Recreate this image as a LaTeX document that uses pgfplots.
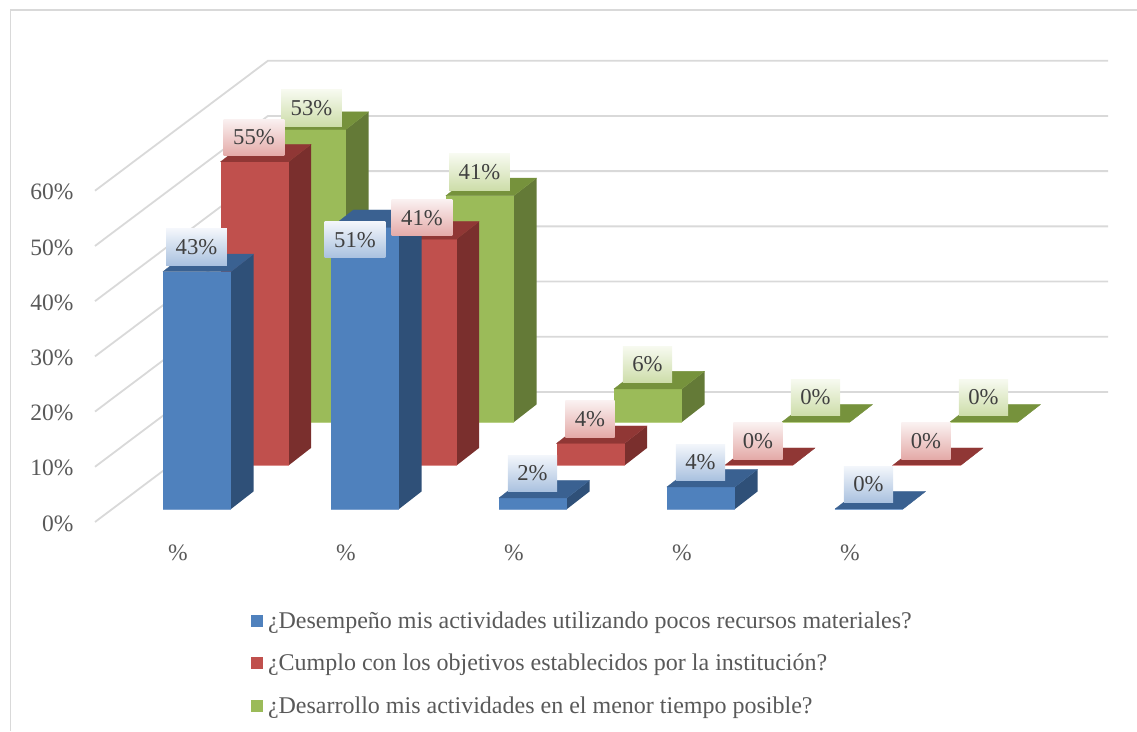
\documentclass[border=0pt]{standalone}
\usepackage{pgfplots}
\usepackage{pgfplotstable}
\usepackage{fontspec}
\setmainfont{Liberation Serif}
\pgfplotsset{compat=1.18}

\definecolor{gridc}{HTML}{D9D9D9}
\definecolor{tickc}{HTML}{595959}
\definecolor{labelc}{HTML}{404040}
\definecolor{bfront}{HTML}{4F81BD}\definecolor{bside}{HTML}{2F5078}\definecolor{btop}{HTML}{3A6191}\definecolor{bedge}{HTML}{7BA0CE}
\definecolor{bhi}{HTML}{F3F6FB}\definecolor{blo}{HTML}{A9C1DF}
\definecolor{rfront}{HTML}{C0504D}\definecolor{rside}{HTML}{7A2F2D}\definecolor{rtop}{HTML}{903735}\definecolor{redge}{HTML}{DC8E8C}
\definecolor{rhi}{HTML}{FAF1F1}\definecolor{rlo}{HTML}{E4AAA8}
\definecolor{gfront}{HTML}{9BBB59}\definecolor{gside}{HTML}{647A37}\definecolor{gtop}{HTML}{76923C}\definecolor{gedge}{HTML}{B9D085}
\definecolor{ghi}{HTML}{F7FAF0}\definecolor{glo}{HTML}{CDDDA9}

% percentages per question (columns) and answer group (rows)
\pgfplotstableread{
cat blue red green
0   43   55  53
1   51   41  41
2   2    4   6
3   4    0   0
4   0    0   0
}\barvalues

% hand-placed data labels: offsets in pt from the default spot above the bar
\pgfplotstableread{
cat blue red green
0   0    0   0
1  -9.5  0   0
2   0    0   0
3   0    0   0
4   0    0   0
}\labelshiftx
\pgfplotstableread{
cat blue red  green
0   0    0   -3
1  -36.8 -3  -1
2   0    0    0
3   0    0    0
4   0    0    0
}\labelshifty

% oblique projection: group pitch, series offset and bar depth
\newcommand{\pxperpct}{5.52}
\newcommand{\drawseries}[3]{% series index, colour prefix, table column
  \foreach \c in {0,...,4}{%
    \pgfplotstablegetelem{\c}{#3}\of\barvalues
    \pgfmathsetmacro{\val}{\pgfplotsretval}
    \pgfmathsetmacro{\xl}{163+168*\c+57.5*#1}
    \pgfmathsetmacro{\xr}{\xl+68}
    \pgfmathsetmacro{\xrb}{\xr+22.5}
    \pgfmathsetmacro{\xlb}{\xl+22.5}
    \pgfmathsetmacro{\yb}{(13+43.5*#1)/\pxperpct}
    \pgfmathsetmacro{\yt}{\yb+\val}
    \pgfmathsetmacro{\ybb}{\yb+17.5/\pxperpct}
    \pgfmathsetmacro{\ytb}{\yt+17.5/\pxperpct}
    \edef\doit{%
      \noexpand\addplot[fill=#2side,draw=none,forget plot] coordinates {(\xr,\yb)(\xrb,\ybb)(\xrb,\ytb)(\xr,\yt)} --cycle;
      \noexpand\addplot[fill=#2front,draw=none,forget plot] coordinates {(\xl,\yb)(\xr,\yb)(\xr,\yt)(\xl,\yt)} --cycle;
      \noexpand\addplot[fill=#2top,draw=#2top,line width=0.3pt,forget plot] coordinates {(\xl,\yt)(\xr,\yt)(\xrb,\ytb)(\xlb,\ytb)} --cycle;
      \noexpand\addplot[#2edge,line width=0.9pt,forget plot] coordinates {(\xl,\yb)(\xr,\yb)};
    }\doit
  }%
}
\newcommand{\labelseries}[3]{%
  \foreach \c in {0,...,4}{%
    \pgfplotstablegetelem{\c}{#3}\of\labelshiftx
    \pgfmathsetmacro{\sx}{\pgfplotsretval}
    \pgfplotstablegetelem{\c}{#3}\of\labelshifty
    \pgfmathsetmacro{\sy}{\pgfplotsretval}
    \pgfplotstablegetelem{\c}{#3}\of\barvalues
    \pgfmathtruncatemacro{\val}{\pgfplotsretval}
    \pgfmathsetmacro{\xc}{163+168*\c+57.5*#1+33.5+\sx}
    \pgfmathsetmacro{\yc}{(13+43.5*#1)/\pxperpct+\val+(24.5+\sy)/\pxperpct}
    \edef\doit{%
      \noexpand\node[anchor=center,top color=#2hi,bottom color=#2lo,draw=none,
        inner xsep=9.5pt,inner ysep=0pt,minimum height=36.5pt,text=labelc,
        font=\noexpand\fontsize{22.7}{26}\noexpand\selectfont]
        at (axis cs:\xc,\yc) {\val\noexpand\%};
    }\doit
  }%
}

\begin{document}
\begin{tikzpicture}[x=1pt,y=1pt]
\path[use as bounding box] (0,0) rectangle (1137,731);
\draw[gridc,line width=1.8pt] (10.5,0) -- (10.5,721) -- (1137,721);
\begin{axis}[
  at={(95pt,209pt)},anchor=south west,
  scale only axis,width=1013pt,height=461pt,
  xmin=95,xmax=1108,ymin=0,ymax=83.5,
  clip=false,
  axis line style={draw=none},
  tick style={draw=none},
  xtick={178,346,514,682,850},
  xticklabels={\%,\%,\%,\%,\%},
  ytick={0,10,20,30,40,50,60},
  yticklabels={0\%,10\%,20\%,30\%,40\%,50\%,60\%},
  ticklabel style={font=\fontsize{23.5}{26}\selectfont,text=tickc},
  y tick label style={anchor=east,xshift=-18pt,yshift=-1.5pt},
  x tick label style={anchor=center,yshift=-31pt},
  legend image code/.code={\path[#1,draw=none] (0pt,-4pt) rectangle (12pt,8pt);},
  legend style={at={(axis cs:251,-16.15)},anchor=north west,draw=none,fill=none,
    inner sep=0pt,outer sep=0pt,row sep=19.5pt,
    font=\fontsize{24}{26}\selectfont,text=tickc,
    nodes={inner sep=0pt,text height=17pt,text depth=6pt}},
  legend cell align=left,
]
% walls: side wall diagonal running into the back wall
\foreach \v in {0,10,...,60}{%
  \pgfmathsetmacro{\vb}{\v+23.55}
  \edef\doit{\noexpand\addplot[gridc,line width=1.8pt,forget plot] coordinates {(95,\v)(268,\vb)(1108,\vb)};}\doit
}
\drawseries{2}{g}{green}
\drawseries{1}{r}{red}
\drawseries{0}{b}{blue}
\labelseries{2}{g}{green}
\labelseries{1}{r}{red}
\labelseries{0}{b}{blue}
\addlegendimage{fill=bfront}
\addlegendentry{\hspace{5pt}¿Desempeño mis actividades utilizando pocos recursos materiales?}
\addlegendimage{fill=rfront}
\addlegendentry{\hspace{5pt}¿Cumplo con los objetivos establecidos por la institución?}
\addlegendimage{fill=gfront}
\addlegendentry{\hspace{5pt}¿Desarrollo mis actividades en el menor tiempo posible?}
\end{axis}
\end{tikzpicture}
\end{document}
